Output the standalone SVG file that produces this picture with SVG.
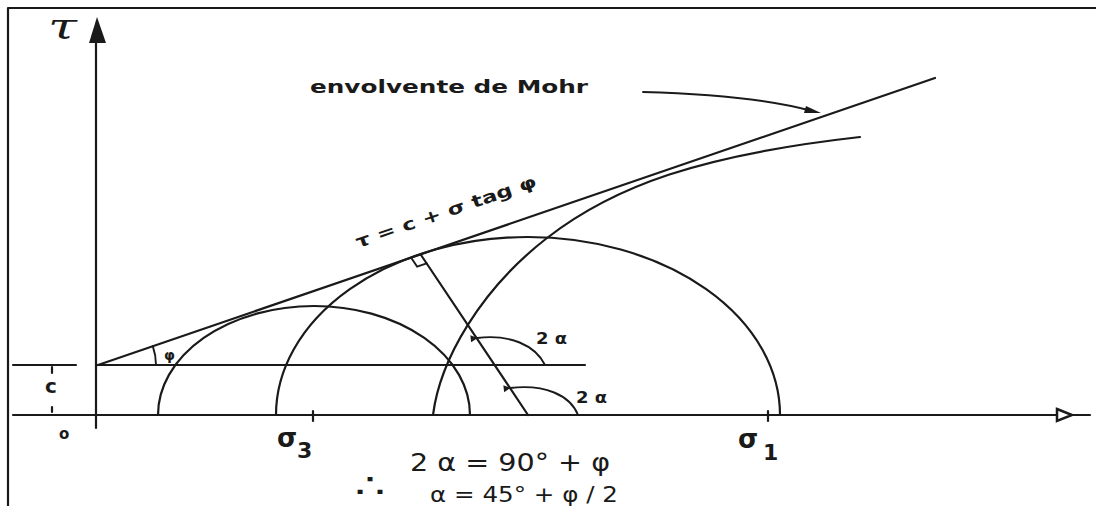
<svg xmlns="http://www.w3.org/2000/svg" width="1096" height="506" viewBox="0 0 1096 506">
  <style>
    .ln { fill: none; stroke: #1a1a1a; stroke-width: 2.2; stroke-linecap: round; }
    .thin { fill: none; stroke: #1a1a1a; stroke-width: 1.9; stroke-linecap: round; }
    .txt { font-family: "DejaVu Sans", "Liberation Sans", sans-serif; fill: #1a1a1a; }
    .math { font-family: "DejaVu Sans", "Liberation Sans", sans-serif; fill: #1a1a1a; }
  </style>
  <defs>
    <marker id="dot" viewBox="0 0 10 10" refX="1" refY="5" markerWidth="8" markerHeight="7" orient="auto-start-reverse" markerUnits="userSpaceOnUse">
      <path d="M0,5 L10,0 L10,10 Z" fill="#1a1a1a"/>
    </marker>
  </defs>
  <rect width="1096" height="506" fill="#ffffff"/>

  <g id="frame">
    <path class="ln" d="M8,8 H1096 M8,8 V506" stroke-linecap="butt"/>
  </g>

  <g id="axes">
    <line class="ln" x1="96" y1="40" x2="96" y2="428"/>
    <polygon points="97,17 89,43 106,43" fill="#1a1a1a"/>
    <line class="ln" x1="13" y1="415" x2="1057" y2="415"/>
    <polygon points="1057,409 1072,415 1057,421" fill="#ffffff" stroke="#1a1a1a" stroke-width="2.5"/>
    <line class="ln" x1="1072" y1="415" x2="1090" y2="415"/>
    <line class="ln" x1="313" y1="411" x2="313" y2="421"/>
    <line class="ln" x1="768" y1="411" x2="768" y2="421"/>
  </g>

  <g id="cohesion">
    <line class="ln" x1="13" y1="365" x2="76" y2="365"/>
    <line class="ln" x1="96" y1="365" x2="585" y2="365"/>
    <line class="ln" x1="52" y1="367" x2="52" y2="373" stroke-width="2.5"/>
    <line class="ln" x1="52" y1="407" x2="52" y2="412" stroke-width="2.5"/>
  </g>

  <g id="circles">
    <path class="ln" d="M158,415 A156,109 0 0 1 470,415"/>
    <path class="ln" d="M276,415 A252,178 0 0 1 780,415"/>
  </g>

  <g id="connectors">
    <line id="envelope-line" class="ln" x1="98" y1="365" x2="935" y2="78"/>
    <path id="envelope-curve" class="ln" d="M433,415 C440,360 480,290 547,238 S700,155 860,137"/>
    <line id="radius" class="ln" x1="421" y1="255" x2="528" y2="415"/>
    <path id="right-angle" class="thin" d="M411.5,258.3 L417.1,266.6 L426.6,263.3"/>
    <path id="phi-arc" class="thin" d="M156,365 A58,58 0 0 0 152.8,346.1"/>
    <path id="arc-2a-upper" class="thin" d="M477,338 C510,334 535,345 545,365" marker-start="url(#dot)"/>
    <path id="arc-2a-lower" class="thin" d="M510,388 C545,384 570,395 578,415" marker-start="url(#dot)"/>
    <path id="label-arrow" class="thin" d="M643,92 C720,94 775,101 812,111"/>
    <polygon points="821,113 806,106 804,113" fill="#1a1a1a"/>
  </g>

  <g id="labels">
    <text id="tau" x="48" y="38" font-family="DejaVu Serif, Liberation Serif, serif" font-size="36" font-style="italic" textLength="29" lengthAdjust="spacingAndGlyphs" fill="#1a1a1a">τ</text>
    <text id="envolvente" class="txt" x="310" y="93" font-size="18" font-weight="bold" textLength="278" lengthAdjust="spacingAndGlyphs">envolvente de Mohr</text>
    <text id="equation" class="txt" x="0" y="0" font-size="17" font-weight="bold" textLength="190" lengthAdjust="spacingAndGlyphs" transform="translate(358,248) rotate(-19)">τ = c + σ tag φ</text>
    <text id="phi" class="txt" x="164" y="360" font-size="14" font-weight="bold">φ</text>
    <text id="two-alpha-1" class="txt" x="536" y="344" font-size="16" font-weight="bold" textLength="31" lengthAdjust="spacingAndGlyphs">2 α</text>
    <text id="two-alpha-2" class="txt" x="576" y="403" font-size="16" font-weight="bold" textLength="31" lengthAdjust="spacingAndGlyphs">2 α</text>
    <text id="c-label" class="txt" x="45" y="393" font-size="20" font-weight="bold">c</text>
    <text id="o-label" class="txt" x="59" y="439" font-size="15" font-weight="bold">o</text>
    <text id="sigma3" class="math" x="277" y="447" font-size="26" font-weight="bold">σ<tspan x="297" y="458" font-size="22">3</tspan></text>
    <text id="sigma1" class="math" x="738" y="448" font-size="26" font-weight="bold">σ<tspan x="763" y="460" font-size="22">1</tspan></text>
    <text id="formula1" class="math" x="410" y="471" font-size="24" textLength="200" lengthAdjust="spacingAndGlyphs">2 α = 90° + φ</text>
    <text id="therefore" class="math" x="0" y="0" font-size="30" text-anchor="middle" transform="translate(370,497) scale(1.6,1.1)">∴</text>
    <text id="formula2" class="math" x="430" y="502" font-size="22" textLength="188" lengthAdjust="spacingAndGlyphs">α = 45° + φ / 2</text>
  </g>
</svg>
